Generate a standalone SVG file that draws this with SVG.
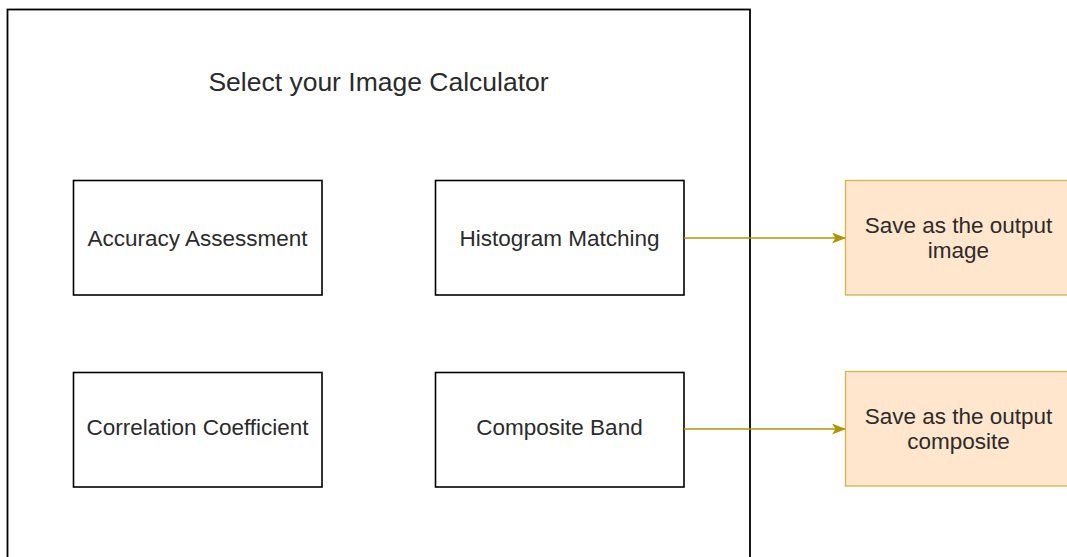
<svg xmlns="http://www.w3.org/2000/svg" width="1067" height="557" viewBox="0 0 1067 557">
  <style>
    .frame { fill: #ffffff; stroke: #000000; stroke-width: 1.8; }
    .box { fill: #ffffff; stroke: #000000; stroke-width: 1.6; }
    .out { fill: #ffe6cc; stroke: #d6b656; stroke-width: 1.4; }
    .lbl { font-family: "Liberation Sans", Arial, sans-serif; font-size: 22.5px; fill: #2b2b2b; text-anchor: middle; }
    .title { font-family: "Liberation Sans", Arial, sans-serif; font-size: 26.5px; fill: #2b2b2b; text-anchor: middle; }
    .edge { fill: none; stroke: #b09500; stroke-width: 1.4; }
  </style>
  <defs>
    <marker id="arrow" viewBox="0 0 14 11" refX="13" refY="5.5" markerWidth="14" markerHeight="11" markerUnits="userSpaceOnUse" orient="auto">
      <path d="M0,0 L14,5.5 L0,11 L3.5,5.5 Z" fill="#b09500"/>
    </marker>
  </defs>
  <rect width="1067" height="557" fill="#ffffff"/>

  <!-- container panel -->
  <g id="panel">
    <rect class="frame" x="7.5" y="9.5" width="742.5" height="560"/>
    <text class="title" x="378.5" y="91">Select your Image Calculator</text>
  </g>

  <g id="accuracy">
    <rect class="box" x="73.5" y="180.5" width="248.5" height="114.5"/>
    <text class="lbl" x="197.5" y="246">Accuracy Assessment</text>
  </g>
  <g id="histogram">
    <rect class="box" x="435.5" y="180.5" width="248.5" height="114.5"/>
    <text class="lbl" x="559.5" y="246">Histogram Matching</text>
  </g>
  <g id="correlation">
    <rect class="box" x="73.5" y="372.5" width="248.5" height="114.5"/>
    <text class="lbl" x="197.5" y="435">Correlation Coefficient</text>
  </g>
  <g id="composite">
    <rect class="box" x="435.5" y="372.5" width="248.5" height="114.5"/>
    <text class="lbl" x="559.5" y="435">Composite Band</text>
  </g>

  <g id="save-image">
    <rect class="out" x="845.5" y="180.5" width="230" height="114.5"/>
    <text class="lbl" x="958.5" y="233">Save as the output</text>
    <text class="lbl" x="958.5" y="258">image</text>
  </g>
  <g id="save-composite">
    <rect class="out" x="845.5" y="371.5" width="230" height="114.5"/>
    <text class="lbl" x="958.5" y="424">Save as the output</text>
    <text class="lbl" x="958.5" y="449">composite</text>
  </g>

  <!-- connectors -->
  <g id="connectors">
    <path class="edge" d="M684,238 L845,238" marker-end="url(#arrow)"/>
    <path class="edge" d="M684,429 L845,429" marker-end="url(#arrow)"/>
  </g>
</svg>
